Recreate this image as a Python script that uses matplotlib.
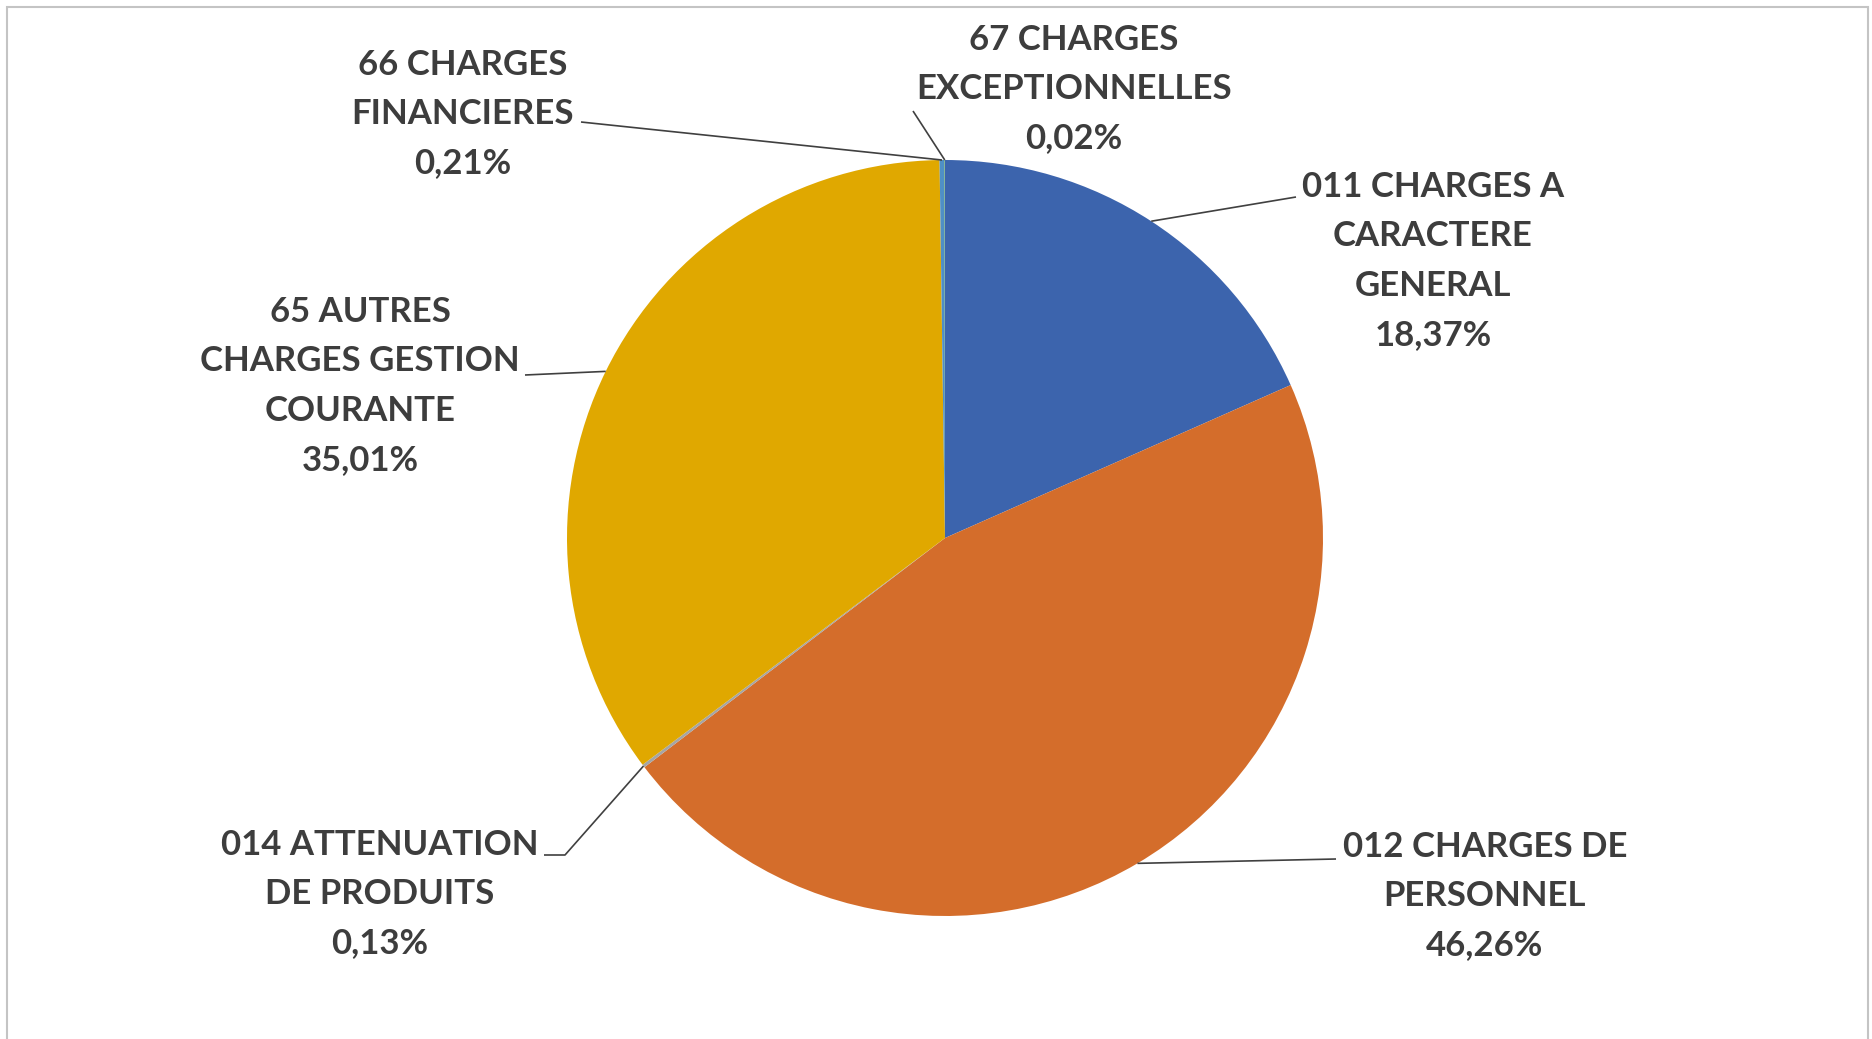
import numpy as np
import matplotlib
matplotlib.use("Agg")
import matplotlib.pyplot as plt
from matplotlib.patches import Rectangle

# data
labels = ["011 CHARGES A\nCARACTERE\nGENERAL",
          "012 CHARGES DE\nPERSONNEL",
          "014 ATTENUATION\nDE PRODUITS",
          "65 AUTRES\nCHARGES GESTION\nCOURANTE",
          "66 CHARGES\nFINANCIERES",
          "67 CHARGES\nEXCEPTIONNELLES"]
shares = [18.37, 46.26, 0.13, 35.01, 0.21, 0.02]
colors = ["#3c64ad", "#d46d2b", "#a5a5a5", "#e0a800", "#4f8fc6", "#6aa845"]

W, H = 1872, 1039
cx, cy, r = 945, H - 538, 378

# label layout in pixel coords (block centre), leader start points
text_pos = [(1433, 261), (1485, 896), (380, 894),
            (360, 386), (463, 114), (1074, 89)]
leader_start = [[(1296, 197)], [(1336, 859)], [(544, 855), (565, 855)],
                [(525, 375)], [(581, 122)], [(913, 111)]]

plt.rcParams['font.family'] = ['Lato', 'DejaVu Sans']

fig = plt.figure(figsize=(W / 100, H / 100), dpi=100)
ax = fig.add_axes([0, 0, 1, 1])

wedges, _ = ax.pie(shares, colors=colors, startangle=90, counterclock=False,
                   center=(cx, cy), radius=r, frame=True,
                   wedgeprops=dict(linewidth=0))
ax.set_xlim(0, W)
ax.set_ylim(0, H)
ax.set_aspect('equal')
ax.axis('off')

for w, lab, val, (tx, ty), pts in zip(wedges, labels, shares, text_pos, leader_start):
    mid = np.deg2rad((w.theta1 + w.theta2) / 2)
    ex, ey = cx + r * np.cos(mid), cy + r * np.sin(mid)
    xs = [p[0] for p in pts] + [ex]
    ys = [H - p[1] for p in pts] + [ey]
    ax.plot(xs, ys, color="#404040", lw=1.2, solid_capstyle='butt')
    txt = lab + "\n" + f"{val:.2f}".replace(".", ",") + "%"
    ax.text(tx, H - ty, txt, ha='center', va='center', fontsize=25,
            fontweight='bold', color='#3d3d3d', linespacing=1.66)

fig.patches.append(Rectangle((7 / W, -0.1), (1861) / W, 1.1 - 7 / H,
                             transform=fig.transFigure, fill=False,
                             edgecolor='#c4c4c4', lw=1.5))

fig.savefig("out.png", dpi=100)
